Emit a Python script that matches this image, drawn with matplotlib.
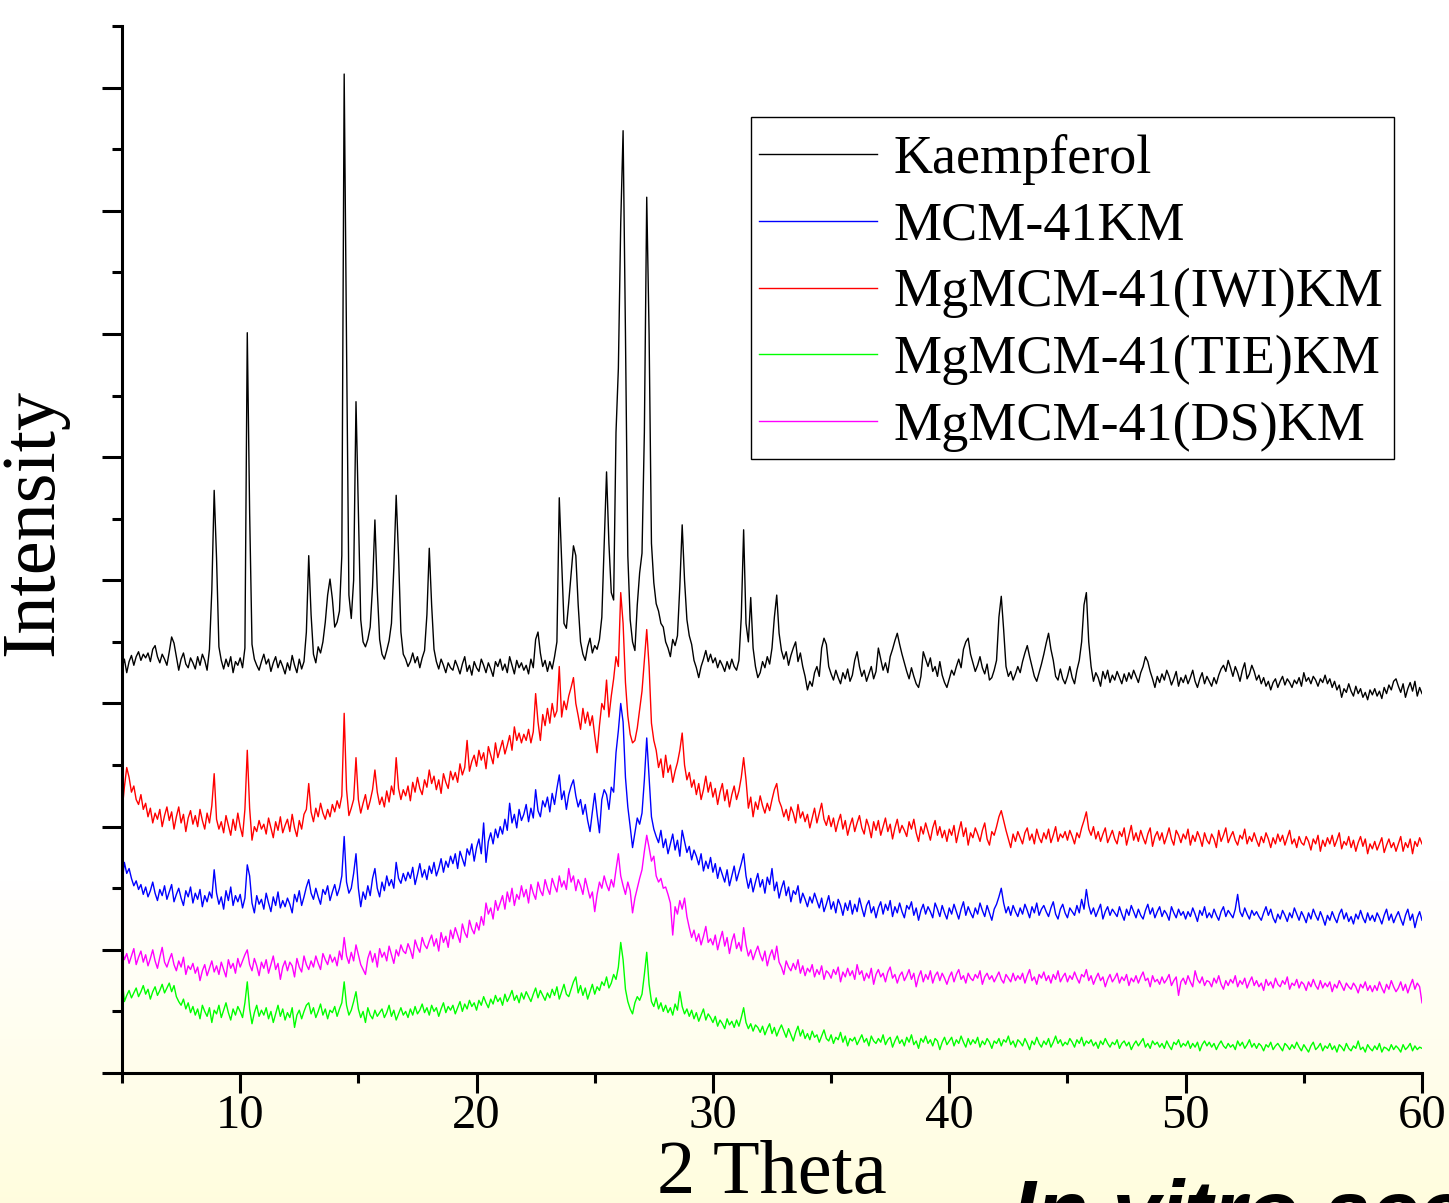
import numpy as np
import matplotlib
matplotlib.use('Agg')
import matplotlib.pyplot as plt
from matplotlib.patches import Rectangle

plt.rcParams['font.family'] = ['Liberation Serif', 'DejaVu Serif']

# scan steps of the diffractogram (degrees 2 theta)
two_theta = np.round(np.arange(5.0, 60.05, 0.1), 1)

# intensities (arbitrary units, already stacked)
kaempferol = [
    328, 336, 325, 334, 339, 331, 338, 342, 335, 340,
    337, 341, 334, 344, 347, 338, 333, 340, 336, 331,
    342, 354, 349, 338, 327, 336, 341, 332, 329, 337,
    333, 328, 338, 331, 340, 335, 327, 344, 392, 473,
    418, 346, 335, 328, 336, 330, 338, 325, 334, 331,
    337, 329, 345, 601, 455, 348, 336, 331, 327, 334,
    340, 332, 336, 326, 333, 338, 329, 335, 330, 324,
    333, 327, 339, 331, 325, 336, 328, 334, 358, 420,
    372, 340, 333, 346, 341, 350, 366, 388, 401, 385,
    362, 366, 375, 420, 811, 590, 388, 369, 400, 545,
    455, 368, 350, 346, 352, 362, 395, 449, 392, 352,
    340, 336, 343, 351, 365, 410, 469, 420, 358, 340,
    336, 330, 334, 341, 333, 338, 329, 337, 343, 372,
    426, 380, 344, 334, 328, 336, 331, 325, 333, 329,
    327, 335, 330, 324, 332, 338, 326, 331, 323, 334,
    329, 326, 336, 331, 325, 333, 328, 322, 334, 330,
    336, 327, 332, 325, 338, 331, 324, 335, 329, 333,
    327, 331, 324, 336, 329, 352, 358, 341, 330, 335,
    326, 334, 328, 338, 350, 467, 415, 365, 361, 382,
    405, 428, 420, 380, 350, 340, 335, 346, 353, 341,
    347, 344, 352, 370, 430, 488, 430, 390, 384, 520,
    572, 690, 765, 600, 420, 368, 350, 343, 380, 406,
    422, 520, 711, 600, 430, 398, 381, 375, 365, 362,
    350, 345, 338, 352, 347, 355, 395, 445, 400, 368,
    355, 348, 335, 329, 321, 330, 336, 343, 334, 340,
    333, 337, 329, 335, 331, 326, 334, 328, 336, 330,
    327, 335, 370, 441, 365, 350, 386, 345, 330, 321,
    325, 334, 329, 338, 332, 345, 370, 388, 357, 343,
    336, 342, 331, 339, 345, 350, 334, 341, 330, 322,
    311, 318, 314, 325, 330, 322, 345, 353, 348, 330,
    324, 319, 327, 321, 316, 325, 320, 328, 318, 323,
    335, 342, 330, 322, 327, 318, 324, 330, 320, 326,
    345, 336, 327, 333, 325, 338, 344, 351, 357, 348,
    340, 333, 326, 320, 329, 322, 316, 313, 322, 342,
    336, 330, 337, 326, 330, 322, 334, 323, 317, 313,
    320, 327, 323, 330, 336, 329, 344, 350, 353, 340,
    333, 326, 331, 338, 329, 324, 332, 319, 321, 327,
    335, 370, 387, 360, 330, 322, 326, 319, 324, 330,
    325, 334, 341, 347, 338, 330, 322, 318, 325, 332,
    340, 349, 357, 344, 335, 322, 319, 328, 320, 316,
    322, 330, 321, 316, 327, 335, 350, 380, 390, 350,
    330, 318, 325, 321, 314, 326, 320, 327, 317, 323,
    319, 326, 321, 316, 324, 318, 325, 320, 327, 322,
    317, 325, 330, 338, 334, 326, 320, 313, 322, 317,
    324, 319, 327, 322, 315, 320, 326, 314, 321, 317,
    323, 316, 321, 327, 318, 313, 320, 325, 316, 322,
    318, 314, 321, 316, 323, 328, 331, 326, 335, 329,
    322, 330, 325, 318, 327, 333, 320, 324, 331, 326,
    319, 323, 316, 321, 314, 318, 311, 317, 320, 313,
    318, 322, 315, 320, 317, 313, 319, 316, 321, 314,
    325, 318, 321, 316, 322, 319, 314, 320, 317, 323,
    316, 320, 313, 318, 311, 315, 305, 312, 309, 316,
    310, 306, 314, 308, 312, 305, 309, 303, 311, 307,
    312, 306, 310, 304, 313, 308, 315, 311, 318, 320,
    314, 309, 316, 305, 312, 317, 310, 318, 306, 313,
    308]

mcm41_km = [
    154, 171, 162, 166, 158, 152, 156, 149, 153, 145,
    151, 143, 148, 155, 146, 140, 149, 144, 152, 141,
    147, 153, 139, 145, 150, 142, 136, 148, 143, 151,
    138, 146, 141, 149, 135, 144, 139, 147, 142, 165,
    146, 137, 143, 133, 148, 140, 151, 136, 144, 139,
    145, 134, 142, 169, 160, 138, 130, 144, 137, 141,
    133, 146, 138, 131, 143, 136, 147, 134, 140, 135,
    142, 137, 130, 145, 139, 148, 136, 143, 151, 157,
    146, 141, 150, 143, 137, 149, 145, 152, 140, 147,
    153, 144, 150, 160, 192, 155, 146, 150, 162, 178,
    150, 135, 147, 141, 152, 144, 158, 166, 150, 143,
    155, 148, 160, 152, 157, 150, 171, 158, 154, 162,
    156, 163, 158, 167, 153, 161, 170, 159, 165, 157,
    168, 162, 171, 160, 166, 174, 163, 172, 167, 176,
    170, 178, 166, 180, 174, 168, 182, 177, 186, 172,
    183, 190, 178, 203, 171, 188, 195, 186, 198, 191,
    200, 194, 206, 197, 219, 203, 210, 199, 214, 205,
    210, 218, 204, 215, 207, 230, 213, 208, 221, 216,
    224, 212, 227, 218, 231, 242, 222, 229, 214, 226,
    233, 238, 225, 216, 222, 210, 218, 205, 196, 212,
    227, 210, 195, 222, 230, 226, 214, 232, 228, 260,
    278, 300, 285, 240, 216, 200, 183, 195, 207, 202,
    211, 238, 272, 240, 208, 198, 192, 187, 197, 183,
    190, 178, 186, 194, 181, 189, 176, 197, 188, 179,
    184, 173, 181, 176, 169, 178, 164, 172, 166, 175,
    163, 170, 158, 167, 161, 155, 165, 152, 160, 168,
    156, 163, 170, 178, 160, 150, 158, 147, 155, 162,
    151, 157, 146, 159, 153, 166, 148, 155, 142, 150,
    156, 144, 151, 139, 148, 145, 152, 138, 146, 141,
    135, 143, 138, 146, 140, 134, 142, 131, 137, 144,
    133, 139, 130, 141, 136, 128, 138, 132, 140, 129,
    137, 131, 142, 134, 127, 136, 140, 130, 135, 126,
    134, 139, 129, 137, 132, 140, 127, 135, 130, 138,
    131, 126, 136, 133, 139, 128, 134, 124, 132, 137,
    129, 135, 131, 126, 138, 133, 127, 136, 130, 125,
    134, 129, 137, 131, 125, 133, 139, 128, 135, 130,
    126, 134, 129, 138, 132, 127, 136, 130, 124, 133,
    137, 143, 150, 138, 130, 135, 128, 136, 131, 127,
    134, 129, 137, 132, 126, 135, 130, 138, 128, 133,
    136, 131, 127, 134, 139, 129, 125, 133, 137, 130,
    126, 134, 131, 128, 136, 130, 141, 133, 149, 136,
    129, 134, 127, 132, 137, 125, 131, 135, 128, 133,
    130, 127, 135, 129, 124, 133, 128, 136, 131, 126,
    133, 128, 125, 132, 137, 129, 134, 126, 131, 135,
    127, 132, 129, 124, 135, 130, 126, 133, 128, 131,
    125, 131, 127, 134, 129, 123, 132, 128, 135, 126,
    130, 126, 133, 128, 124, 131, 135, 127, 132, 129,
    126, 133, 145, 131, 127, 134, 129, 125, 132, 128,
    131, 127, 124, 130, 135, 128, 133, 126, 122, 129,
    125, 132, 128, 123, 130, 126, 134, 129, 124, 131,
    127, 122, 130, 125, 133, 128, 124, 131, 126, 120,
    128, 124, 131, 126, 122, 129, 133, 125, 130, 123,
    127, 121, 129, 125, 132, 126, 122, 130, 124, 128,
    123, 130, 126, 121, 128, 133, 124, 129, 122, 127,
    131, 125, 120, 128, 133, 124, 129, 118, 126, 131,
    124]

iwi_km = [
    212, 232, 248, 240, 228, 233, 222, 218, 226, 214,
    219, 208, 215, 203, 211, 206, 214, 200, 209, 216,
    205, 212, 198, 208, 216, 203, 210, 196, 207, 213,
    202, 209, 200, 214, 205, 198, 211, 203, 217, 243,
    206, 198, 204, 195, 209, 201, 193, 206, 197, 211,
    200, 192, 214, 262, 215, 189, 200, 196, 205, 198,
    202, 194, 207, 199, 191, 204, 197, 208, 195, 201,
    206, 196, 210, 199, 192, 205, 198, 210, 214, 235,
    212, 204, 215, 208, 219, 211, 206, 214, 208, 218,
    212, 221, 215, 225, 292, 230, 209, 215, 222, 256,
    222, 211, 219, 226, 214, 221, 230, 246, 228, 218,
    224, 216, 229, 220, 233, 226, 256, 231, 222, 230,
    225, 233, 221, 236, 228, 240, 231, 226, 238, 232,
    246, 235, 241, 230, 238, 227, 243, 236, 231, 245,
    238, 244, 236, 251, 242, 248, 270, 245, 253, 258,
    249, 262, 254, 260, 247, 265, 258, 251, 268, 256,
    263, 270, 259, 266, 274, 262, 281, 270, 276, 268,
    275, 270, 279, 268, 277, 308, 285, 270, 291, 282,
    296, 284, 300, 289, 294, 330, 289, 302, 295, 306,
    313, 321, 300, 290, 279, 296, 284, 293, 282, 290,
    274, 260, 282, 300, 295, 319, 289, 306, 320, 338,
    330, 390, 365, 317, 290, 275, 268, 270, 280, 295,
    310, 335, 360, 330, 284, 270, 262, 248, 255, 240,
    258, 244, 250, 236, 245, 252, 262, 276, 250, 238,
    244, 232, 238, 226, 235, 222, 230, 241, 228, 236,
    224, 231, 218, 228, 235, 221, 230, 216, 226, 233,
    222, 229, 240, 256, 238, 215, 224, 208, 220, 214,
    225, 217, 211, 219, 213, 222, 230, 235, 221, 216,
    208, 214, 205, 216, 211, 203, 218, 207, 212, 204,
    210, 199, 207, 215, 203, 211, 219, 206, 201, 209,
    200, 207, 196, 204, 210, 198, 205, 193, 201, 207,
    196, 203, 209, 199, 194, 206, 200, 191, 204, 197,
    205, 193, 200, 207, 196, 202, 190, 199, 206, 195,
    201, 197, 192, 204, 198, 206, 195, 188, 200, 194,
    203, 196, 189, 199, 205, 193, 200, 191, 197, 188,
    198, 193, 201, 187, 196, 204, 192, 199, 185, 195,
    191, 199, 194, 188, 197, 203, 190, 185, 196, 193,
    200, 208, 213, 205, 197, 190, 183, 194, 188, 196,
    191, 186, 195, 199, 189, 194, 186, 198, 191, 187,
    195, 190, 198, 187, 193, 200, 188, 194, 191, 196,
    189, 197, 192, 186, 195, 191, 199, 205, 212, 198,
    193, 200, 190, 196, 188, 194, 199, 187, 192, 197,
    190, 186, 196, 192, 199, 185, 193, 201, 189, 195,
    188, 197, 191, 186, 194, 199, 184, 192, 196, 189,
    195, 186, 192, 199, 190, 185, 197, 193, 187, 194,
    190, 198, 185, 193, 188, 196, 191, 184, 195, 189,
    186, 194, 190, 183, 197, 188, 193, 199, 187, 192,
    196, 189, 185, 193, 190, 198, 186, 192, 188, 195,
    189, 184, 192, 187, 195, 190, 183, 191, 186, 194,
    188, 193, 185, 191, 197, 186, 190, 183, 192, 187,
    185, 192, 188, 181, 190, 186, 193, 180, 189, 184,
    191, 186, 193, 184, 189, 195, 182, 188, 185, 192,
    183, 189, 180, 187, 192, 184, 190, 178, 186, 182,
    188, 181, 186, 191, 179, 185, 190, 183, 187, 180,
    186, 192, 180, 187, 183, 190, 178, 188, 184, 191,
    186]

tie_km = [
    78, 58, 63, 67, 61, 65, 69, 62, 66, 71,
    64, 68, 60, 66, 70, 63, 67, 72, 65, 69,
    73, 66, 71, 62, 58, 55, 60, 52, 57, 49,
    54, 47, 52, 44, 55, 50, 46, 53, 41, 51,
    48, 55, 45, 51, 57, 49, 43, 52, 47, 54,
    50, 45, 57, 74, 52, 40, 49, 55, 46, 51,
    47, 53, 44, 50, 41, 48, 55, 46, 52, 43,
    49, 45, 53, 37, 47, 51, 44, 50, 55, 57,
    48, 53, 45, 50, 56, 47, 52, 44, 51, 49,
    54, 46, 52, 57, 74, 55, 47, 51, 58, 66,
    52, 45, 50, 41, 53, 47, 44, 51, 46, 49,
    52, 45, 49, 55, 46, 51, 43, 48, 53, 47,
    50, 45, 52, 47, 54, 48, 51, 56, 49, 53,
    47, 55, 50, 53, 46, 52, 57, 49, 54, 51,
    55, 48, 53, 58, 50, 56, 52, 59, 54, 57,
    51, 59, 55, 62, 57, 53, 60, 56, 63, 58,
    61, 55, 64, 58, 62, 67, 59, 63, 57, 65,
    60, 66, 62, 58, 64, 69, 61, 67, 63, 59,
    65, 61, 68, 63, 70, 60, 66, 72, 64, 62,
    68, 74, 78, 65, 71, 63, 69, 60, 66, 72,
    64, 70, 67, 74, 71, 78, 69, 73, 80, 76,
    86, 106, 92, 68, 58, 52, 48, 57, 62, 59,
    64, 80, 98, 72, 58, 54, 61, 52, 57, 50,
    55, 49, 53, 47, 56, 51, 66, 54, 48, 52,
    46, 51, 44, 49, 42, 47, 52, 43, 48, 45,
    41, 46, 38, 43, 40, 36, 44, 39, 42, 37,
    43, 38, 45, 53, 41, 36, 40, 34, 39, 37,
    33, 38, 31, 36, 40, 32, 37, 30, 35, 39,
    34, 29, 36, 31, 26, 33, 38, 30, 35, 28,
    32, 27, 34, 29, 31, 25, 30, 35, 28, 26,
    31, 24, 29, 27, 33, 25, 30, 22, 28, 26,
    29, 23, 27, 31, 25, 28, 22, 30, 26, 24,
    28, 25, 31, 23, 27, 29, 21, 26, 30, 24,
    27, 22, 29, 25, 31, 23, 26, 20, 28, 25,
    30, 24, 27, 22, 28, 26, 19, 25, 29, 23,
    26, 29, 22, 27, 24, 30, 25, 21, 28, 23,
    27, 24, 29, 21, 26, 23, 28, 25, 20, 26,
    24, 28, 22, 27, 25, 30, 23, 26, 21, 27,
    25, 22, 28, 24, 19, 26, 23, 29, 24, 21,
    26, 23, 28, 21, 25, 30, 24, 27, 22, 25,
    23, 28, 25, 21, 27, 24, 29, 22, 26, 24,
    27, 22, 25, 20, 26, 23, 28, 24, 21, 25,
    23, 27, 20, 24, 26, 22, 25, 19, 23, 26,
    22, 25, 28, 21, 24, 20, 26, 23, 25, 21,
    24, 20, 26, 22, 19, 25, 23, 27, 21, 24,
    22, 26, 20, 24, 21, 25, 18, 23, 26, 22,
    25, 21, 24, 19, 23, 26, 22, 20, 24, 21,
    23, 19, 26, 22, 25, 20, 23, 27, 21, 24,
    20, 24, 22, 18, 23, 21, 25, 19, 22, 24,
    21, 18, 24, 22, 19, 23, 20, 25, 21, 18,
    23, 20, 17, 22, 25, 19, 21, 24, 18, 22,
    20, 24, 19, 22, 17, 23, 21, 18, 24, 20,
    18, 22, 20, 26, 19, 21, 17, 23, 20, 18,
    22, 19, 24, 17, 21, 20, 18, 23, 19, 22,
    20, 17, 23, 19, 21, 24, 18, 22, 19, 21,
    20]

ds_km = [
    100, 92, 97, 89, 95, 101, 88, 94, 99, 90,
    96, 87, 93, 100, 91, 85, 94, 102, 90, 86,
    92, 97, 88, 83, 91, 86, 94, 80, 87, 84,
    89, 81, 86, 75, 83, 88, 79, 85, 91, 82,
    87, 80, 90, 84, 78, 92, 85, 89, 81, 93,
    86, 91, 96, 100, 88, 83, 93, 87, 79, 90,
    85, 92, 81, 88, 95, 84, 89, 76, 86, 91,
    83, 90, 87, 78, 93, 86, 82, 95, 88, 84,
    91, 86, 95, 89, 84, 97, 92, 88, 96, 90,
    94, 87, 99, 92, 110, 95, 89, 98, 91, 104,
    96, 88, 84, 80, 93, 99, 90, 97, 86, 101,
    94, 98, 91, 103, 96, 89, 100, 95, 104, 99,
    97, 105, 100, 93, 108, 102, 98, 110, 104, 101,
    107, 112, 103, 109, 99, 114, 106, 111, 102, 116,
    109, 118, 112, 106, 121, 114, 110, 124, 117, 113,
    122, 116, 127, 120, 138, 129, 134, 125, 140, 132,
    138, 144, 133, 147, 139, 150, 136, 145, 141, 152,
    143, 149, 138, 153, 146, 141, 155, 148, 144, 157,
    150, 145, 158, 152, 147, 160, 151, 156, 149, 166,
    155, 160, 148, 157, 152, 145, 158, 150, 142, 147,
    131, 145, 155, 150, 160, 153, 148, 157, 151, 165,
    178, 160, 152, 145, 155, 148, 130, 142, 150, 158,
    165, 180, 193, 183, 172, 176, 160, 155, 158, 150,
    151, 145, 138, 112, 135, 129, 140, 133, 142, 127,
    118, 110, 116, 107, 113, 104, 111, 119, 106, 109,
    104, 112, 100, 108, 115, 103, 110, 97, 107, 113,
    101, 106, 99, 118, 104, 95, 100, 92, 98, 103,
    96, 91, 99, 87, 95, 100, 92, 103, 90, 86,
    80, 91, 86, 83, 89, 84, 92, 81, 87, 79,
    85, 82, 88, 78, 84, 80, 87, 76, 83, 81,
    77, 84, 80, 86, 74, 82, 78, 85, 79, 83,
    76, 88, 80, 83, 75, 81, 77, 85, 72, 80,
    84, 78, 81, 74, 82, 86, 77, 80, 73, 79,
    82, 75, 79, 84, 76, 81, 70, 78, 83, 74,
    80, 76, 83, 73, 79, 82, 75, 81, 77, 72,
    78, 82, 74, 80, 84, 76, 79, 73, 81, 77,
    75, 80, 77, 83, 72, 78, 81, 76, 79, 74,
    78, 82, 76, 73, 80, 77, 74, 81, 75, 79,
    76, 81, 73, 79, 84, 75, 78, 72, 80, 77,
    82, 75, 79, 73, 80, 76, 83, 74, 78, 81,
    74, 79, 76, 82, 77, 73, 80, 78, 84, 75,
    79, 72, 77, 81, 75, 78, 70, 76, 80, 74,
    77, 81, 73, 78, 75, 80, 71, 77, 74, 79,
    73, 78, 82, 75, 77, 70, 79, 74, 76, 72,
    78, 73, 76, 80, 71, 75, 78, 63, 74, 77,
    72, 79, 74, 70, 83, 76, 73, 78, 71, 75,
    74, 70, 77, 73, 79, 72, 68, 75, 71, 76,
    73, 79, 70, 75, 72, 77, 69, 74, 78, 71,
    75, 70, 73, 67, 76, 71, 74, 69, 77, 72,
    70, 75, 72, 78, 68, 73, 71, 76, 69, 74,
    72, 67, 74, 70, 76, 71, 68, 75, 69, 73,
    70, 74, 66, 72, 69, 75, 71, 67, 73, 70,
    68, 73, 70, 65, 72, 69, 74, 67, 71, 66,
    71, 67, 74, 69, 65, 72, 68, 75, 70, 66,
    69, 74, 67, 72, 65, 71, 76, 68, 73, 70,
    57]

labels = ['Kaempferol', 'MCM-41KM', 'MgMCM-41(IWI)KM',
          'MgMCM-41(TIE)KM', 'MgMCM-41(DS)KM']
series = [kaempferol, mcm41_km, iwi_km, tie_km, ds_km]
colors = ['#000000', '#0000ff', '#ff0000', '#00ff00', '#ff00ff']

W, H = 1449, 1203
fig = plt.figure(figsize=(W / 100, H / 100), dpi=100)

# pale yellow wash at the bottom of the slide
bg = fig.add_axes([0, 0, 1, 1], zorder=-1)
rows = np.arange(H)
t = np.clip((rows - 880) / (H - 880), 0, 1)
grad = np.ones((H, 1, 3))
grad[:, 0, 1] = 1 - 0.008 * t
grad[:, 0, 2] = 1 - 0.13 * t
bg.imshow(grad, aspect='auto', extent=[0, 1, 0, 1])
bg.axis('off')

ax = fig.add_axes([122 / W, 1 - 1073 / H, 1300 / W, 1047 / H])
ax.patch.set_visible(False)

for ys, c, lab in zip(series, colors, labels):
    x = two_theta[:len(ys)]
    ax.plot(x, ys, color=c, lw=1.0, label=lab)

ax.set_xlim(5, 60)
ax.set_ylim(0, 850)
ax.set_xticks(np.arange(10, 61, 10))
ax.set_xticks(np.arange(5, 60, 10), minor=True)
ax.set_yticks(np.arange(0, 801, 100))
ax.set_yticks(np.arange(50, 851, 100), minor=True)
ax.set_yticklabels([])
ax.tick_params(which='major', direction='out', length=14.4, width=2.2,
               labelsize=35, pad=1)
ax.tick_params(which='minor', direction='out', length=7.2, width=2.2)
for s in ['top', 'right']:
    ax.spines[s].set_visible(False)
for s in ['left', 'bottom']:
    ax.spines[s].set_linewidth(2.2)

fig.text(34 / W, 1 - 522 / H, 'Intensity', rotation=90, fontsize=55,
         ha='center', va='center')
fig.text(772 / W, 1 - 1193 / H, '2 Theta', fontsize=55,
         ha='center', va='baseline')
fig.text(1012 / W, 1 - 1240 / H, 'In vitro accumulative release',
         fontsize=62, fontweight='bold', fontstyle='italic',
         family=['Liberation Sans', 'DejaVu Sans'], va='baseline')

# legend entries without frame, box drawn separately
leg = ax.legend(loc='upper left', bbox_to_anchor=(759 / W, 1 - 134 / H),
                bbox_transform=fig.transFigure, fontsize=39, frameon=False,
                handlelength=2.18, handletextpad=0.3, labelspacing=0.30,
                borderpad=0, borderaxespad=0)
fig.add_artist(Rectangle((751 / W, 1 - 459 / H), (1394 - 751) / W,
                         (459 - 117) / H, transform=fig.transFigure,
                         fill=False, edgecolor='black', lw=1.0))

fig.savefig('out.png', dpi=100)
